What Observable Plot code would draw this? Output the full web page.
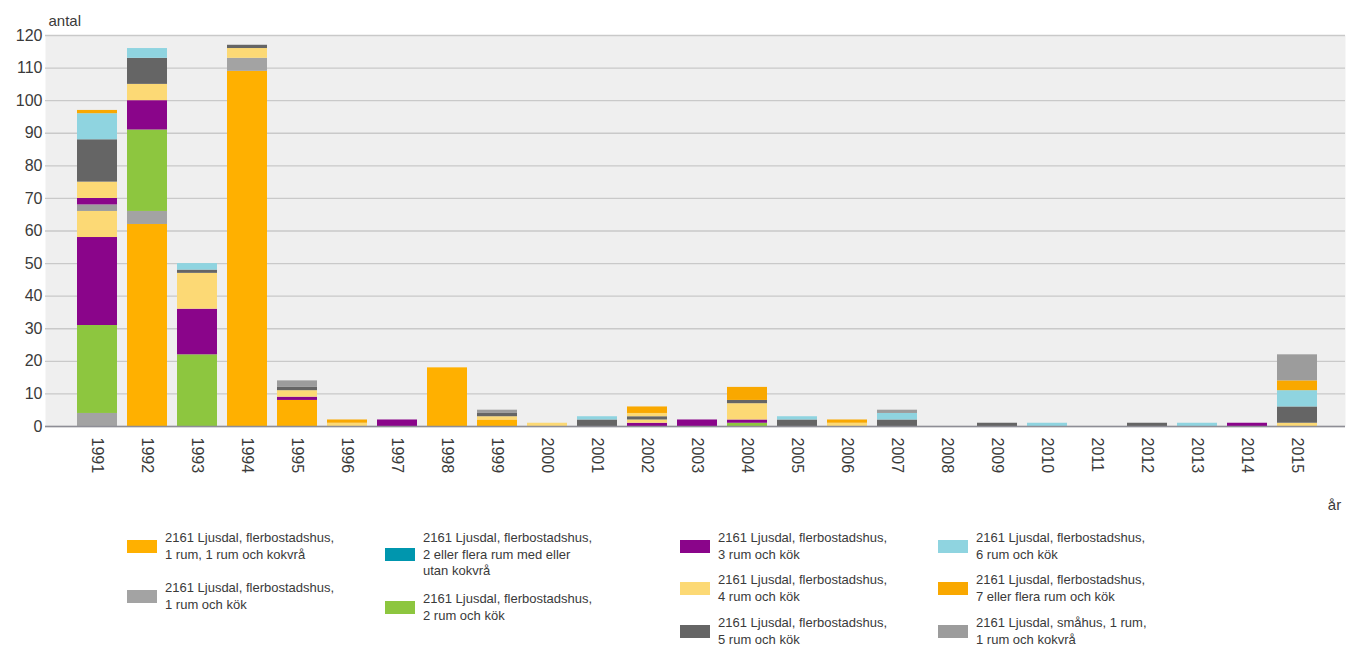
<!DOCTYPE html>
<html>
<head>
<meta charset="utf-8">
<script src="https://cdn.jsdelivr.net/npm/d3@7"></script>
<script src="https://cdn.jsdelivr.net/npm/@observablehq/plot@0.6"></script>
<style>
  html, body { margin: 0; padding: 0; background: #fff; }
  #wrap { position: relative; width: 1347px; height: 650px; font-family: "Liberation Sans", Arial, sans-serif; color: #3a3a3a; }
  #chart { position: absolute; left: 0; top: 0; }
  .item { position: absolute; display: flex; align-items: center; }
  .sw { width: 30px; height: 13px; margin-right: 8px; flex: none; }
  .lbl { font-size: 13px; line-height: 16.5px; white-space: pre; color: #3a3a3a; }
</style>
</head>
<body>
<div id="wrap"><div id="chart"></div></div>
<script>
const years = ["1991","1992","1993","1994","1995","1996","1997","1998","1999","2000","2001","2002","2003","2004","2005","2006","2007","2008","2009","2010","2011","2012","2013","2014","2015"];
const yTicks = [0,10,20,30,40,50,60,70,80,90,100,110,120];

const seriesNames = [
  "2161 Ljusdal, flerbostadshus, 1 rum, 1 rum och kokvrå",
  "2161 Ljusdal, flerbostadshus, 1 rum och kök",
  "2161 Ljusdal, flerbostadshus, 2 eller flera rum med eller utan kokvrå",
  "2161 Ljusdal, flerbostadshus, 2 rum och kök",
  "2161 Ljusdal, flerbostadshus, 3 rum och kök",
  "2161 Ljusdal, flerbostadshus, 4 rum och kök",
  "2161 Ljusdal, flerbostadshus, 5 rum och kök",
  "2161 Ljusdal, flerbostadshus, 6 rum och kök",
  "2161 Ljusdal, flerbostadshus, 7 eller flera rum och kök",
  "2161 Ljusdal, småhus, 1 rum, 1 rum och kokvrå",
  "2161 Ljusdal, småhus, 3 rum och kök",
  "2161 Ljusdal, småhus, 4 rum och kök",
  "2161 Ljusdal, småhus, 5 rum och kök",
  "2161 Ljusdal, småhus, 6 rum och kök",
  "2161 Ljusdal, småhus, 7 eller flera rum och kök"
];
const seriesColors = ["#FFB000","#A3A3A3","#0096AE","#8DC63F","#8A058A","#FCD975","#656565","#8FD4E0","#F9A800","#9C9C9C","#8A058A","#FCD975","#656565","#8FD4E0","#F9A800"];

const legendLabels = [
  "2161 Ljusdal, flerbostadshus,\n1 rum, 1 rum och kokvrå",
  "2161 Ljusdal, flerbostadshus,\n1 rum och kök",
  "2161 Ljusdal, flerbostadshus,\n2 eller flera rum med eller\nutan kokvrå",
  "2161 Ljusdal, flerbostadshus,\n2 rum och kök",
  "2161 Ljusdal, flerbostadshus,\n3 rum och kök",
  "2161 Ljusdal, flerbostadshus,\n4 rum och kök",
  "2161 Ljusdal, flerbostadshus,\n5 rum och kök",
  "2161 Ljusdal, flerbostadshus,\n6 rum och kök",
  "2161 Ljusdal, flerbostadshus,\n7 eller flera rum och kök",
  "2161 Ljusdal, småhus, 1 rum,\n1 rum och kokvrå"
];

//                      91 92 93  94 95 96 97 98 99 00 01 02 03 04 05 06 07 08 09 10 11 12 13 14 15
const fler1rumKokvra = [ 0,62, 0,109, 8, 0, 0,18, 2, 0, 0, 0, 0, 0, 0, 0, 0, 0, 0, 0, 0, 0, 0, 0, 0];
const fler1rumKok    = [ 4, 4, 0,  4, 0, 0, 0, 0, 0, 0, 0, 0, 0, 0, 0, 0, 0, 0, 0, 0, 0, 0, 0, 0, 0];
const fler2ellerFlera= [ 0, 0, 0,  0, 0, 0, 0, 0, 0, 0, 0, 0, 0, 0, 0, 0, 0, 0, 0, 0, 0, 0, 0, 0, 0];
const fler2rum       = [27,25,22,  0, 0, 0, 0, 0, 0, 0, 0, 0, 0, 1, 0, 0, 0, 0, 0, 0, 0, 0, 0, 0, 0];
const fler3rum       = [27, 9,14,  0, 1, 0, 2, 0, 0, 0, 0, 1, 2, 1, 0, 0, 0, 0, 0, 0, 0, 0, 0, 1, 0];
const fler4rum       = [ 8, 5,11,  3, 2, 1, 0, 0, 1, 1, 0, 1, 0, 5, 0, 1, 0, 0, 0, 0, 0, 0, 0, 0, 1];
const fler5rum       = [ 0, 8, 1,  1, 1, 0, 0, 0, 1, 0, 2, 1, 0, 1, 2, 0, 2, 0, 1, 0, 0, 1, 0, 0, 5];
const fler6rum       = [ 0, 3, 2,  0, 0, 0, 0, 0, 0, 0, 1, 0, 0, 0, 1, 0, 2, 0, 0, 1, 0, 0, 1, 0, 5];
const fler7rum       = [ 0, 0, 0,  0, 0, 1, 0, 0, 0, 0, 0, 0, 0, 4, 0, 1, 0, 0, 0, 0, 0, 0, 0, 0, 3];
const smahus1rum     = [ 2, 0, 0,  0, 2, 0, 0, 0, 1, 0, 0, 0, 0, 0, 0, 0, 1, 0, 0, 0, 0, 0, 0, 0, 8];
const smahus3rum     = [ 2, 0, 0,  0, 0, 0, 0, 0, 0, 0, 0, 0, 0, 0, 0, 0, 0, 0, 0, 0, 0, 0, 0, 0, 0];
const smahus4rum     = [ 5, 0, 0,  0, 0, 0, 0, 0, 0, 0, 0, 1, 0, 0, 0, 0, 0, 0, 0, 0, 0, 0, 0, 0, 0];
const smahus5rum     = [13, 0, 0,  0, 0, 0, 0, 0, 0, 0, 0, 0, 0, 0, 0, 0, 0, 0, 0, 0, 0, 0, 0, 0, 0];
const smahus6rum     = [ 8, 0, 0,  0, 0, 0, 0, 0, 0, 0, 0, 0, 0, 0, 0, 0, 0, 0, 0, 0, 0, 0, 0, 0, 0];
const smahus7rum     = [ 1, 0, 0,  0, 0, 0, 0, 0, 0, 0, 0, 2, 0, 0, 0, 0, 0, 0, 0, 0, 0, 0, 0, 0, 0];

const seriesValues = [fler1rumKokvra, fler1rumKok, fler2ellerFlera, fler2rum, fler3rum, fler4rum, fler5rum, fler6rum, fler7rum, smahus1rum, smahus3rum, smahus4rum, smahus5rum, smahus6rum, smahus7rum];

const table = [];
seriesValues.forEach((vals, s) => {
  vals.forEach((v, i) => table.push({year: years[i], series: seriesNames[s], value: v}));
});

const W = 1347, H = 520;
const chart = Plot.plot({
  width: W,
  height: H,
  marginLeft: 45,
  marginRight: 2,
  marginTop: 35,
  marginBottom: 94,
  style: {fontFamily: "'Liberation Sans', Arial, sans-serif", fontSize: "16px", color: "#3a3a3a", background: "#fff"},
  x: {domain: years, range: [66, 1327], padding: 0.2, align: 0.5},
  y: {domain: [0, 120]},
  color: {domain: seriesNames, range: seriesColors},
  marks: [
    Plot.frame({fill: "#EFEFEF", stroke: null}),
    Plot.gridY(yTicks, {stroke: "#C9C9C9", strokeOpacity: 1, strokeWidth: 1.3}),
    Plot.barY(table, {x: "year", y: "value", fill: "series"}),
    Plot.ruleY([0], {stroke: "#8E8E96", strokeWidth: 1.5}),
    Plot.axisY({ticks: yTicks, tickSize: 0, tickPadding: 3, label: null, fontSize: 16}),
    Plot.axisX({tickRotate: 90, tickSize: 0, tickPadding: 11, label: null, fontSize: 16}),
    Plot.text(["antal"], {frameAnchor: "top-left", textAnchor: "start", lineAnchor: "middle", dx: 3, dy: -14, fontSize: 15, fill: "#3a3a3a"}),
    Plot.text(["år"], {frameAnchor: "bottom-right", textAnchor: "middle", lineAnchor: "middle", dx: -11, dy: 79, fontSize: 15, fill: "#3a3a3a"})
  ]
});
document.getElementById("chart").appendChild(chart);

// legend layout: [left, top] per legend entry
const legendPos = [[127,530],[127,580],[385,530],[385,591],[680,530],[680,572],[680,615],[938,530],[938,572],[938,615]];
const wrap = document.getElementById("wrap");
legendLabels.forEach((lab, i) => {
  const it = document.createElement("div");
  it.className = "item";
  it.style.left = legendPos[i][0] + "px";
  it.style.top = legendPos[i][1] + "px";
  const sw = document.createElement("div");
  sw.className = "sw";
  sw.style.background = seriesColors[i];
  const tx = document.createElement("div");
  tx.className = "lbl";
  tx.textContent = lab;
  it.appendChild(sw); it.appendChild(tx);
  wrap.appendChild(it);
});
</script>
</body>
</html>
